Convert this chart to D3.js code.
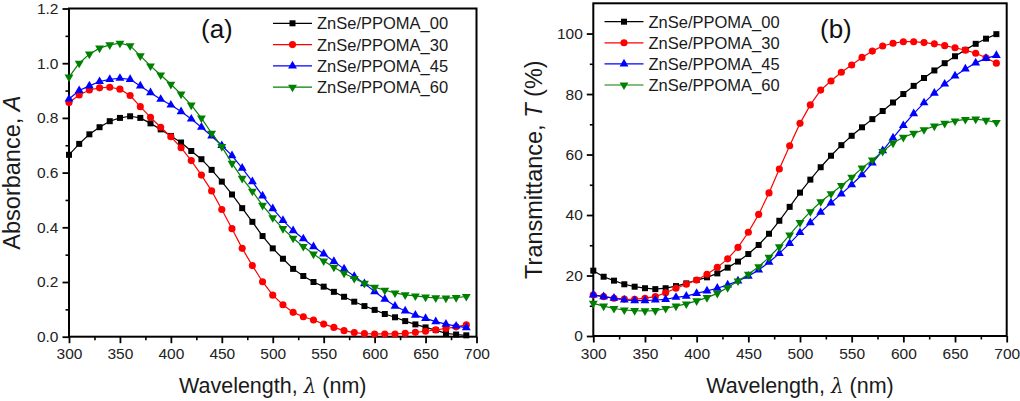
<!DOCTYPE html>
<html><head><meta charset="utf-8">
<script src="https://cdn.jsdelivr.net/npm/d3@7"></script>
<style>
html,body{margin:0;padding:0;background:#fff;}
svg{display:block;font-family:"Liberation Sans",Arial,sans-serif;}
</style></head>
<body>
<svg id="chart" width="1020" height="401"></svg>
<script>
// ---- data ----
const wavelengths = d3.range(300, 700, 10); // 300..690
const seriesNames = ["ZnSe/PPOMA_00", "ZnSe/PPOMA_30", "ZnSe/PPOMA_45", "ZnSe/PPOMA_60"];

const absorb00 = [0.665,0.705,0.74,0.766,0.788,0.80,0.806,0.80,0.78,0.758,
  0.734,0.71,0.679,0.649,0.61,0.567,0.52,0.47,0.42,0.368,
  0.323,0.285,0.248,0.222,0.20,0.183,0.164,0.146,0.128,0.112,
  0.098,0.083,0.071,0.057,0.045,0.034,0.024,0.012,0.008,0.005];
const absorb30 = [0.856,0.884,0.902,0.91,0.912,0.905,0.882,0.841,0.802,0.766,
  0.731,0.691,0.644,0.591,0.533,0.465,0.395,0.323,0.26,0.201,
  0.152,0.117,0.089,0.073,0.061,0.046,0.034,0.022,0.015,0.011,
  0.01,0.01,0.01,0.012,0.016,0.02,0.025,0.03,0.036,0.043];
const absorb45 = [0.869,0.9,0.917,0.933,0.941,0.945,0.941,0.917,0.892,0.868,
  0.847,0.823,0.796,0.766,0.734,0.699,0.662,0.616,0.567,0.515,
  0.468,0.425,0.388,0.358,0.329,0.303,0.275,0.248,0.221,0.194,
  0.165,0.137,0.112,0.094,0.079,0.067,0.055,0.046,0.039,0.033];
const absorb60 = [0.949,1.0,1.033,1.055,1.067,1.073,1.064,1.027,0.99,0.957,
  0.923,0.887,0.847,0.799,0.744,0.695,0.634,0.579,0.532,0.48,
  0.435,0.395,0.36,0.33,0.302,0.277,0.254,0.232,0.213,0.195,
  0.181,0.17,0.16,0.153,0.149,0.145,0.142,0.141,0.143,0.147];

const trans00 = [21.6,19.6,18.3,17.1,16.3,15.8,15.5,15.8,16.5,17.4,
  18.5,19.4,20.7,22.6,24.6,27.1,30.1,33.8,38.1,42.7,
  47.4,51.7,55.8,59.6,63.1,66.2,69.0,71.7,74.4,77.2,
  80.0,82.7,85.3,87.8,90.2,92.5,94.6,96.6,98.3,99.8];
const trans30 = [13.6,13.0,12.5,12.2,12.1,12.5,13.0,14.3,15.8,17.1,
  18.5,20.4,22.7,25.5,29.3,34.3,40.2,47.3,55.2,62.9,
  70.3,76.4,81.3,84.3,87.2,89.6,92.1,94.2,95.9,96.8,
  97.3,97.3,97.0,96.6,96.0,95.3,94.5,93.5,92.0,90.2];
const trans45 = [13.6,13.0,12.5,11.9,11.7,11.7,11.9,12.1,12.8,13.2,
  14.1,14.9,15.8,16.9,18.2,19.8,21.8,24.4,27.3,30.6,
  34.2,37.5,40.9,44.0,47.0,50.0,53.3,57.2,61.3,65.5,
  69.6,73.5,77.1,80.3,83.3,86.0,88.3,90.3,91.8,92.8];
const trans60 = [10.8,9.9,9.1,8.6,8.4,8.3,8.4,9.1,9.9,10.6,
  11.6,12.7,14.1,16.0,18.2,20.4,22.9,26.0,29.5,33.4,
  37.5,41.1,44.4,47.0,49.7,52.5,55.5,58.2,61.0,63.8,
  65.7,67.0,68.2,69.4,70.3,71.1,71.6,71.7,71.3,70.6];

const xTicks = [300,350,400,450,500,550,600,650,700];
const absTicks = [0.0,0.2,0.4,0.6,0.8,1.0,1.2];
const transTicks = [0,20,40,60,80,100];

// ---- styles ----
const colors = ["#000000", "#ff0000", "#0000ff", "#008000"];
const symbols = [d3.symbolSquare, d3.symbolCircle, d3.symbolTriangle, d3.symbolTriangle];
const symSizes = [36, 40, 34, 34];
const symRot = [0, 0, 0, 180];

const svg = d3.select("#chart");

function drawPanel(cfg) {
  const {x0, x1, y0, y1, yDomain, yTicks, yMinorStep, yFmt, data, label, labelX, yTitle, yTitleX, legendX, legendY, legendDy} = cfg;
  const x = d3.scaleLinear().domain([300, 700]).range([x0, x1]);
  const y = d3.scaleLinear().domain(yDomain).range([y1, y0]);
  const g = svg.append("g");

  // minor ticks
  const xMinor = d3.range(325, 700, 50);
  g.append("g").attr("transform", `translate(0,${y1})`)
    .call(d3.axisBottom(x).tickValues(xMinor).tickSize(3.5).tickFormat(""))
    .call(s => { s.select(".domain").remove(); s.selectAll("line").attr("stroke", "#000").attr("stroke-width", 1.6); });
  const yMinor = d3.range(yDomain[0] + yMinorStep, yDomain[1] - 1e-9, yMinorStep * 2);
  g.append("g").attr("transform", `translate(${x0},0)`)
    .call(d3.axisLeft(y).tickValues(yMinor).tickSize(3.5).tickFormat(""))
    .call(s => { s.select(".domain").remove(); s.selectAll("line").attr("stroke", "#000").attr("stroke-width", 1.6); });

  // major axes
  g.append("g").attr("transform", `translate(0,${y1})`)
    .call(d3.axisBottom(x).tickValues(xTicks).tickSize(6.5).tickPadding(5).tickFormat(d3.format("d")))
    .call(s => {
      s.select(".domain").remove();
      s.selectAll("line").attr("stroke", "#000").attr("stroke-width", 1.8);
      s.selectAll("text").attr("font-size", 15.5).attr("fill", "#222").attr("font-family", "Liberation Sans, Arial, sans-serif");
    });
  g.append("g").attr("transform", `translate(${x0},0)`)
    .call(d3.axisLeft(y).tickValues(yTicks).tickSize(6.5).tickPadding(4).tickFormat(yFmt))
    .call(s => {
      s.select(".domain").remove();
      s.selectAll("line").attr("stroke", "#000").attr("stroke-width", 1.8);
      s.selectAll("text").attr("font-size", 15.5).attr("fill", "#222").attr("font-family", "Liberation Sans, Arial, sans-serif");
    });

  // frame
  g.append("rect").attr("x", x0).attr("y", y0).attr("width", x1 - x0).attr("height", y1 - y0)
    .attr("fill", "none").attr("stroke", "#000").attr("stroke-width", 2);

  // series
  const line = d3.line().x((d, i) => x(wavelengths[i])).y(d => y(d));
  data.forEach((vals, k) => {
    g.append("path").attr("d", line(vals)).attr("fill", "none")
      .attr("stroke", colors[k]).attr("stroke-width", 1.2);
    g.selectAll(null).data(vals).enter().append("path")
      .attr("d", d3.symbol().type(symbols[k]).size(symSizes[k]))
      .attr("transform", (d, i) => `translate(${x(wavelengths[i])},${y(d)}) rotate(${symRot[k]})`)
      .attr("fill", colors[k]);
  });

  // panel label
  g.append("text").attr("x", labelX).attr("y", 38).attr("font-size", 26).attr("fill", "#111").text(label);

  // legend
  seriesNames.forEach((name, k) => {
    const ly = legendY + k * legendDy;
    g.append("line").attr("x1", legendX).attr("x2", legendX + 39).attr("y1", ly).attr("y2", ly)
      .attr("stroke", colors[k]).attr("stroke-width", 1.2);
    g.append("path").attr("d", d3.symbol().type(symbols[k]).size(symSizes[k])())
      .attr("transform", `translate(${legendX + 19.5},${ly}) rotate(${symRot[k]})`).attr("fill", colors[k]);
    g.append("text").attr("x", legendX + 44).attr("y", ly + 6).attr("font-size", 16.5)
      .attr("fill", "#1a1a1a").text(name);
  });

  // axis titles
  const xt = g.append("text").attr("x", (x0 + x1) / 2).attr("y", 393).attr("text-anchor", "middle")
    .attr("font-size", 21.5).attr("fill", "#1a1a1a");
  xt.append("tspan").text("Wavelength, ");
  xt.append("tspan").attr("font-style", "italic").attr("font-family", "DejaVu Serif, serif").attr("font-size", 20).text("λ");
  xt.append("tspan").text(" (nm)");

  const yt = g.append("text").attr("transform", `translate(${yTitleX},${(y0 + y1) / 2}) rotate(-90)`)
    .attr("text-anchor", "middle").attr("font-size", 23.5).attr("fill", "#1a1a1a");
  yTitle.forEach(p => {
    const t = yt.append("tspan").text(p.t);
    if (p.i) t.attr("font-style", "italic");
  });
}

drawPanel({
  x0: 69, x1: 476.5, y0: 8.5, y1: 336.7,
  yDomain: [0, 1.2], yTicks: absTicks, yMinorStep: 0.1, yFmt: d3.format(".1f"),
  data: [absorb00, absorb30, absorb45, absorb60],
  label: "(a)", labelX: 201,
  yTitle: [{t: "Absorbance, "}, {t: "A", i: true}], yTitleX: 20,
  legendX: 273, legendY: 23.3, legendDy: 21.3
});

drawPanel({
  x0: 593.3, x1: 1006.7, y0: 3.3, y1: 336,
  yDomain: [0, 110], yTicks: transTicks, yMinorStep: 10, yFmt: d3.format("d"),
  data: [trans00, trans30, trans45, trans60],
  label: "(b)", labelX: 820,
  yTitle: [{t: "Transmittance, "}, {t: "T", i: true}, {t: " (%)"}], yTitleX: 542,
  legendX: 604.5, legendY: 21.7, legendDy: 21.1
});
</script>
</body></html>
